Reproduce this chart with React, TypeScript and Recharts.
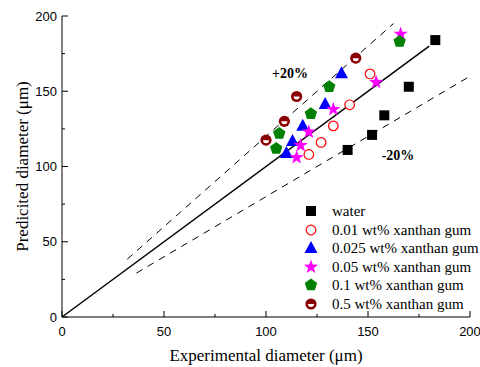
import React from 'react';
import { ScatterChart, Scatter, XAxis, YAxis, ReferenceLine, ReferenceDot, Legend } from 'recharts';

const water = [
  { x: 183, y: 184 }, { x: 170, y: 153 }, { x: 158, y: 134 }, { x: 152, y: 121 }, { x: 140, y: 111 },
];
const xg001 = [
  { x: 151, y: 161.5 }, { x: 141, y: 141 }, { x: 133, y: 127 }, { x: 127, y: 116 }, { x: 121, y: 108 },
];
const xg0025 = [
  { x: 137, y: 162 }, { x: 129, y: 141.5 }, { x: 118, y: 127 }, { x: 113, y: 117 }, { x: 110, y: 109 },
];
const xg005 = [
  { x: 166, y: 188 }, { x: 154, y: 156 }, { x: 133, y: 138 }, { x: 121, y: 123 }, { x: 117, y: 114 }, { x: 115, y: 106 },
];
const xg01 = [
  { x: 165.5, y: 183 }, { x: 131, y: 153 }, { x: 122, y: 135 }, { x: 106.5, y: 122 }, { x: 105, y: 112 },
];
const xg05 = [
  { x: 144, y: 172 }, { x: 115, y: 146.5 }, { x: 109, y: 130 }, { x: 100, y: 117.5 },
];

const parityLine = [{ x: 0, y: 0 }, { x: 180, y: 180 }];
const upperLine = [{ x: 32, y: 38.4 }, { x: 162.5, y: 195 }];
const lowerLine = [{ x: 36.5, y: 29.2 }, { x: 200, y: 160 }];

const axisTicks = [0, 25, 50, 75, 100, 125, 150, 175, 200];
const labelPlus = { x: 111.8, y: 162, text: '+20%' };
const labelMinus = { x: 164.7, y: 107.6, text: '-20%' };

const SERIF = '"Liberation Serif", "Times New Roman", serif';
const SANS = '"Liberation Sans", Arial, sans-serif';

const Square = ({ cx, cy }: any) => <rect x={cx - 5} y={cy - 5} width={10} height={10} fill="#000" />;
const OpenCircle = ({ cx, cy }: any) => (
  <circle cx={cx} cy={cy} r={4.8} fill="#fff" stroke="#ff0000" strokeWidth={1.2} />
);
const Triangle = ({ cx, cy }: any) => (
  <polygon points={`${cx},${cy - 7} ${cx - 6.5},${cy + 5} ${cx + 6.5},${cy + 5}`} fill="#0000ff" />
);
const starPts = (cx: number, cy: number, ro: number, ri: number, n: number) => {
  const pts: string[] = [];
  for (let i = 0; i < n * 2; i++) {
    const r = i % 2 === 0 ? ro : ri;
    const a = -Math.PI / 2 + (i * Math.PI) / n;
    pts.push(`${cx + r * Math.cos(a)},${cy + r * Math.sin(a)}`);
  }
  return pts.join(' ');
};
const Star = ({ cx, cy }: any) => <polygon points={starPts(cx, cy, 7.5, 3, 5)} fill="#ff00ff" />;
const Pentagon = ({ cx, cy }: any) => {
  const pts: string[] = [];
  for (let i = 0; i < 5; i++) {
    const a = -Math.PI / 2 + (i * 2 * Math.PI) / 5;
    pts.push(`${cx + 6.5 * Math.cos(a)},${cy + 6.5 * Math.sin(a)}`);
  }
  return <polygon points={pts.join(' ')} fill="#008000" />;
};
const HalfCircle = ({ cx, cy }: any) => (
  <g>
    <circle cx={cx} cy={cy} r={5.6} fill="#8b0000" />
    <path d={`M${cx - 3},${cy} A3,3 0 0 0 ${cx + 3},${cy} Z`} fill="#fff" />
  </g>
);

const seriesDefs = [
  { name: 'water', data: water, Shape: Square },
  { name: '0.01 wt% xanthan gum', data: xg001, Shape: OpenCircle },
  { name: '0.025 wt% xanthan gum', data: xg0025, Shape: Triangle },
  { name: '0.05 wt% xanthan gum', data: xg005, Shape: Star },
  { name: '0.1 wt% xanthan gum', data: xg01, Shape: Pentagon },
  { name: '0.5 wt% xanthan gum', data: xg05, Shape: HalfCircle },
];

const XTick = ({ x, y, payload }: any) => {
  const v = payload.value;
  const major = v % 50 === 0;
  return (
    <g>
      <line x1={x} x2={x} y1={y} y2={y - (major ? 6 : 3)} stroke="#000" strokeWidth={1} />
      {major && (
        <text x={x} y={y + 18.5} textAnchor="middle" fontFamily={SANS} fontSize={13} fill="#000">
          {v}
        </text>
      )}
    </g>
  );
};

const YTick = ({ x, y, payload }: any) => {
  const v = payload.value;
  const major = v % 50 === 0;
  return (
    <g>
      <line x1={x} x2={x + (major ? 6 : 3)} y1={y} y2={y} stroke="#000" strokeWidth={1} />
      {major && (
        <text x={x - 5} y={y + 4.5} textAnchor="end" fontFamily={SANS} fontSize={13} fill="#000">
          {v}
        </text>
      )}
    </g>
  );
};

const XTitle = (props: any) => {
  const vb = props.viewBox || {};
  return (
    <text x={vb.x + vb.width / 2} y={361} textAnchor="middle" fontFamily={SERIF} fontSize={17} fill="#000">
      Experimental diameter (μm)
    </text>
  );
};

const YTitle = (props: any) => {
  const vb = props.viewBox || {};
  const cy = vb.y + vb.height / 2;
  return (
    <text
      x={28}
      y={cy}
      transform={`rotate(-90 28 ${cy})`}
      textAnchor="middle"
      fontFamily={SERIF}
      fontSize={17}
      fill="#000"
    >
      Predicited diameter (μm)
    </text>
  );
};

const LegendContent = () => (
  <div style={{ fontFamily: SERIF, fontSize: 15, color: '#000' }}>
    {seriesDefs.map(({ name, Shape }) => (
      <div key={name} style={{ display: 'flex', alignItems: 'center', height: 18.5, whiteSpace: 'nowrap' }}>
        <svg width={16} height={18} style={{ display: 'block', flexShrink: 0 }}>
          <Shape cx={8} cy={9} />
        </svg>
        <span style={{ marginLeft: 13, lineHeight: '18px', flexShrink: 0 }}>{name}</span>
      </div>
    ))}
  </div>
);

const TextMark = (text: string) => (props: any) => (
  <text
    x={props.cx}
    y={props.cy + 5}
    textAnchor="middle"
    fontFamily={SERIF}
    fontWeight="bold"
    fontSize={14}
    fill="#000"
  >
    {text}
  </text>
);

export default function App() {
  return (
    <div style={{ position: 'absolute', left: 0, top: 0, background: '#fff' }}>
      <ScatterChart width={480} height={367} margin={{ top: 16, right: 10, bottom: 0, left: 0 }}>
        <XAxis
          type="number"
          dataKey="x"
          domain={[0, 200]}
          ticks={axisTicks}
          interval={0}
          height={50}
          tickLine={false}
          tickSize={0}
          tickMargin={0}
          axisLine={{ stroke: '#000', strokeWidth: 1 }}
          tick={<XTick />}
          label={XTitle}
          allowDataOverflow
        />
        <YAxis
          type="number"
          dataKey="y"
          domain={[0, 200]}
          ticks={axisTicks}
          interval={0}
          width={62}
          tickLine={false}
          tickSize={0}
          tickMargin={0}
          axisLine={{ stroke: '#000', strokeWidth: 1 }}
          tick={<YTick />}
          label={YTitle}
          allowDataOverflow
        />
        <ReferenceLine segment={parityLine} stroke="#000" strokeWidth={1.5} ifOverflow="visible" />
        <ReferenceLine segment={upperLine} stroke="#000" strokeWidth={1} strokeDasharray="7 6" ifOverflow="visible" />
        <ReferenceLine segment={lowerLine} stroke="#000" strokeWidth={1} strokeDasharray="7 6" ifOverflow="visible" />
        <ReferenceDot x={labelPlus.x} y={labelPlus.y} r={0} shape={TextMark(labelPlus.text)} ifOverflow="visible" />
        <ReferenceDot x={labelMinus.x} y={labelMinus.y} r={0} shape={TextMark(labelMinus.text)} ifOverflow="visible" />
        {seriesDefs.map(({ name, data, Shape }) => (
          <Scatter key={name} name={name} data={data} shape={(p: any) => <Shape cx={p.cx} cy={p.cy} />} isAnimationActive={false} />
        ))}
        <Legend
          layout="vertical"
          align="center"
          verticalAlign="middle"
          content={LegendContent}
          wrapperStyle={{ left: 303, top: 202, width: 177 }}
        />
      </ScatterChart>
    </div>
  );
}
